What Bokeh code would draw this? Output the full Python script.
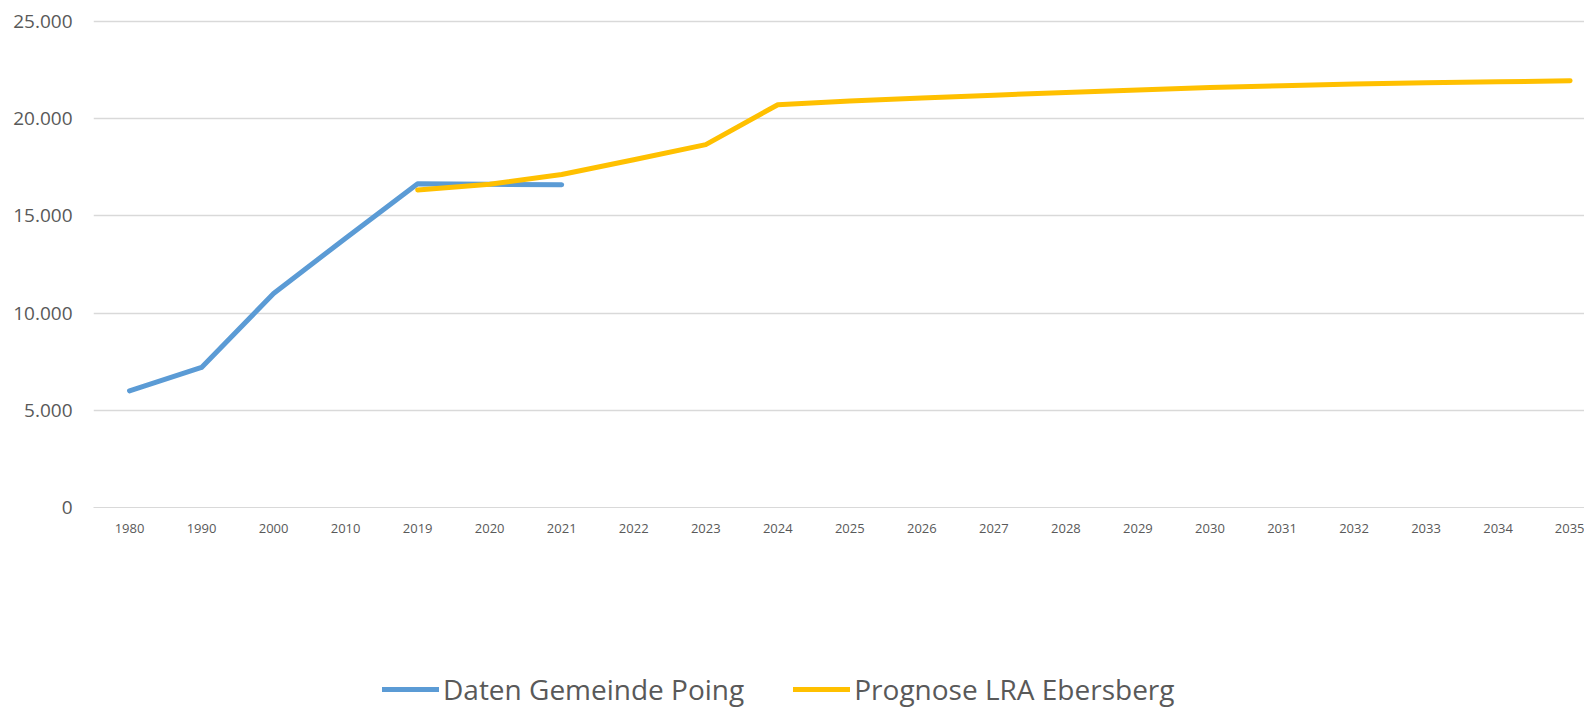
from bokeh.plotting import figure
from bokeh.layouts import column
from bokeh.models import Range1d, FixedTicker, Legend, LegendItem
from bokeh.embed import file_html
from bokeh.resources import INLINE

# ---- data ----
categories = ["1980", "1990", "2000", "2010", "2019", "2020", "2021", "2022", "2023",
              "2024", "2025", "2026", "2027", "2028", "2029", "2030", "2031", "2032",
              "2033", "2034", "2035"]
daten_years = ["1980", "1990", "2000", "2010", "2019", "2020", "2021"]
daten_values = [6000, 7200, 11000, 13850, 16650, 16620, 16600]
prognose_years = ["2019", "2020", "2021", "2022", "2023", "2024", "2025", "2026", "2027",
                  "2028", "2029", "2030", "2031", "2032", "2033", "2034", "2035"]
prognose_values = [16330, 16620, 17120, 17880, 18660, 20710, 20900, 21060, 21200,
                   21340, 21470, 21590, 21690, 21780, 21840, 21890, 21940]
y_ticks = [0, 5000, 10000, 15000, 20000, 25000]
y_tick_labels = ["0", "5.000", "10.000", "15.000", "20.000", "25.000"]
series_names = ["Daten Gemeinde Poing", "Prognose LRA Ebersberg"]

BLUE = "#5B9BD5"
YELLOW = "#FFC000"
TXT = "#595959"
GRID = "#D9D9D9"
FONT = "Open Sans"

idx = {c: i for i, c in enumerate(categories)}
dx = [idx[c] for c in daten_years]
px = [idx[c] for c in prognose_years]

W = 1584
left = 93
frame_w = W - left
cat_px = 72.03
H1 = 560
p = figure(width=W, height=H1, output_backend="svg", toolbar_location=None,
           x_range=Range1d(-0.5, -0.5 + frame_w / cat_px), y_range=Range1d(0, 25350),
           min_border_left=left, min_border_right=0, min_border_top=14,
           min_border_bottom=H1 - 14 - 493,
           frame_width=frame_w, frame_height=493)
p.outline_line_color = None
p.background_fill_color = "white"
p.border_fill_color = "white"

p.line(dx, daten_values, line_color=BLUE, line_width=5, line_cap="round", line_join="round")
p.line(px, prognose_values, line_color=YELLOW, line_width=5, line_cap="round", line_join="round")

# axes
p.yaxis.ticker = FixedTicker(ticks=y_ticks)
p.yaxis.major_label_overrides = {t: l for t, l in zip(y_ticks, y_tick_labels)}
p.yaxis.axis_line_color = None
p.yaxis.major_tick_line_color = None
p.yaxis.minor_tick_line_color = None
p.yaxis.major_tick_out = 0
p.yaxis.major_tick_in = 0
p.yaxis.major_label_standoff = 21
p.yaxis.major_label_text_font = FONT
p.yaxis.major_label_text_font_size = "19px"
p.yaxis.major_label_text_color = TXT

p.xaxis.ticker = FixedTicker(ticks=list(range(len(categories))))
p.xaxis.major_label_overrides = {i: c for i, c in enumerate(categories)}
p.xaxis.axis_line_color = GRID
p.xaxis.major_tick_line_color = None
p.xaxis.minor_tick_line_color = None
p.xaxis.major_label_standoff = 10
p.xaxis.major_label_text_font = FONT
p.xaxis.major_label_text_font_size = "13px"
p.xaxis.major_label_text_color = TXT

p.xgrid.grid_line_color = None
p.ygrid.ticker = FixedTicker(ticks=y_ticks)
p.ygrid.grid_line_color = GRID
p.ygrid.grid_line_width = 1.5

# legend strip below the chart (same series, drawn outside its visible range)
H2 = 707 - H1
lg = figure(width=W, height=H2, output_backend="svg", toolbar_location=None,
            x_range=Range1d(1000, 1001), y_range=Range1d(0, 1),
            min_border_left=left, min_border_right=0, min_border_top=0, min_border_bottom=0)
lg.axis.visible = False
lg.grid.visible = False
lg.outline_line_color = None
lr1 = lg.line(dx, daten_values, line_color=BLUE, line_width=5, line_cap="round")
lr2 = lg.line(px, prognose_values, line_color=YELLOW, line_width=5, line_cap="round")
legend = Legend(items=[LegendItem(label=series_names[0], renderers=[lr1]),
                       LegendItem(label=series_names[1], renderers=[lr2])],
                orientation="horizontal", location=(289, -1),
                glyph_width=57, glyph_height=20, label_standoff=4, spacing=49,
                padding=0, margin=0, border_line_color=None, background_fill_alpha=0,
                label_text_font=FONT, label_text_font_size="28px", label_text_color=TXT)
lg.add_layout(legend, "center")

open("out.html", "w").write(file_html(column(p, lg, spacing=0), INLINE))
